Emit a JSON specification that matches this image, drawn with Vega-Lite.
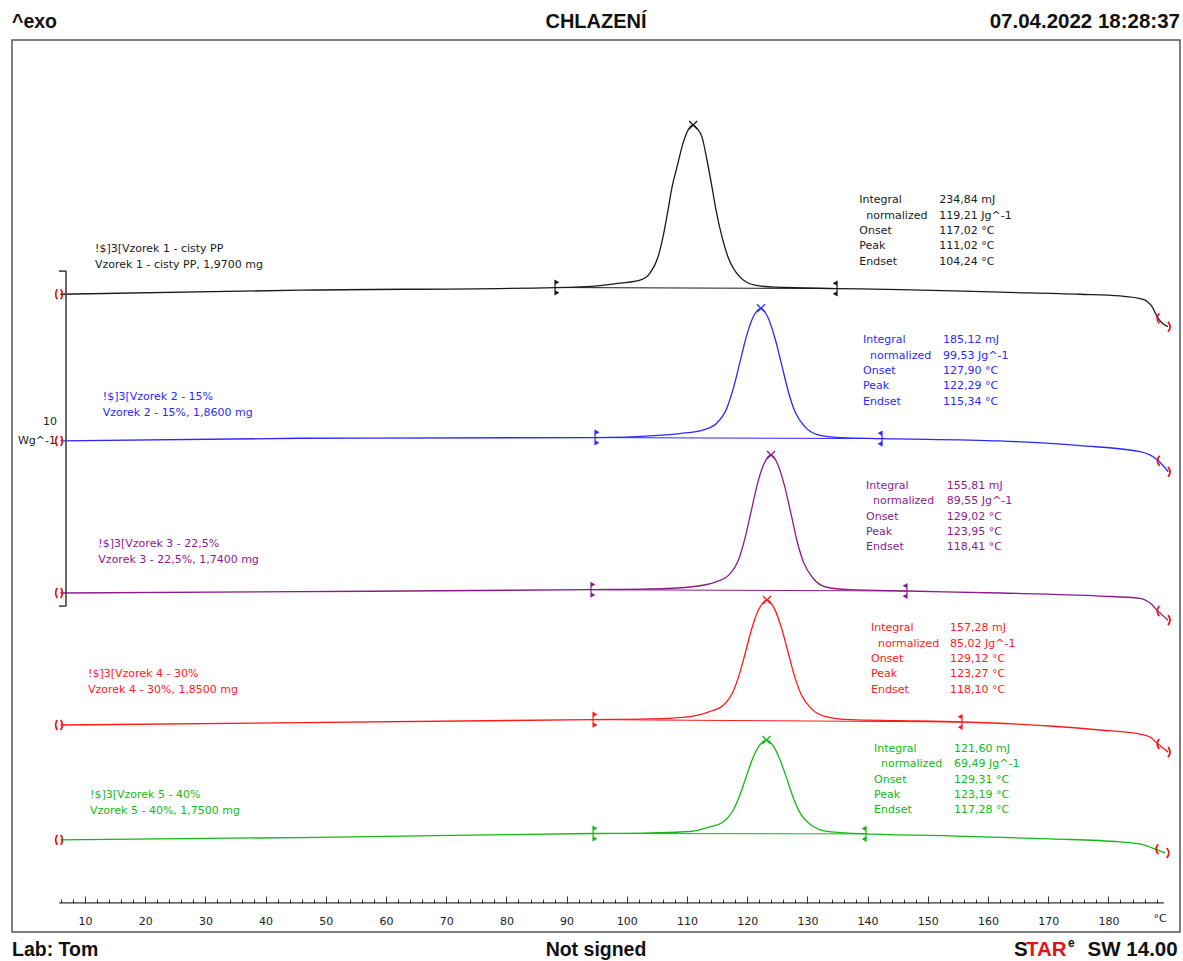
{
  "$schema": "https://vega.github.io/schema/vega-lite/v6.json",
  "width": 1168,
  "height": 892,
  "autosize": "none",
  "padding": {"left": 12, "top": 40, "right": 3, "bottom": 29},
  "background": "white",
  "config": {
    "view": {"stroke": "#555555", "strokeWidth": 1.5},
    "font": "DejaVu Sans"
  },
  "resolve": {"axis": {"x": "independent"}},
  "datasets": {
    "curves": [
      {"sample": "Vzorek 1", "t": 5.9, "hf": 19.04},
      {"sample": "Vzorek 1", "t": 45.71, "hf": 19.16},
      {"sample": "Vzorek 1", "t": 88.07, "hf": 19.24},
      {"sample": "Vzorek 1", "t": 95.55, "hf": 19.3},
      {"sample": "Vzorek 1", "t": 98.87, "hf": 19.37},
      {"sample": "Vzorek 1", "t": 102.19, "hf": 19.46},
      {"sample": "Vzorek 1", "t": 103.85, "hf": 19.67},
      {"sample": "Vzorek 1", "t": 105.18, "hf": 20.15},
      {"sample": "Vzorek 1", "t": 106.01, "hf": 20.75},
      {"sample": "Vzorek 1", "t": 106.84, "hf": 21.55},
      {"sample": "Vzorek 1", "t": 107.51, "hf": 22.24},
      {"sample": "Vzorek 1", "t": 108.34, "hf": 22.84},
      {"sample": "Vzorek 1", "t": 109.34, "hf": 23.55},
      {"sample": "Vzorek 1", "t": 110.17, "hf": 23.94},
      {"sample": "Vzorek 1", "t": 111.02, "hf": 24.09},
      {"sample": "Vzorek 1", "t": 111.66, "hf": 23.99},
      {"sample": "Vzorek 1", "t": 112.49, "hf": 23.73},
      {"sample": "Vzorek 1", "t": 113.32, "hf": 23.04},
      {"sample": "Vzorek 1", "t": 114.15, "hf": 22.24},
      {"sample": "Vzorek 1", "t": 114.82, "hf": 21.55},
      {"sample": "Vzorek 1", "t": 115.81, "hf": 20.75},
      {"sample": "Vzorek 1", "t": 116.81, "hf": 20.15},
      {"sample": "Vzorek 1", "t": 118.8, "hf": 19.55},
      {"sample": "Vzorek 1", "t": 121.3, "hf": 19.31},
      {"sample": "Vzorek 1", "t": 124.62, "hf": 19.25},
      {"sample": "Vzorek 1", "t": 134.92, "hf": 19.21},
      {"sample": "Vzorek 1", "t": 145.38, "hf": 19.18},
      {"sample": "Vzorek 1", "t": 161.99, "hf": 19.1},
      {"sample": "Vzorek 1", "t": 175.28, "hf": 19.04},
      {"sample": "Vzorek 1", "t": 181.93, "hf": 18.99},
      {"sample": "Vzorek 1", "t": 185.75, "hf": 18.89},
      {"sample": "Vzorek 1", "t": 187.24, "hf": 18.67},
      {"sample": "Vzorek 1", "t": 188.24, "hf": 18.32},
      {"sample": "Vzorek 1", "t": 189.9, "hf": 18.07},

      {"sample": "Vzorek 2", "t": 5.9, "hf": 14.66},
      {"sample": "Vzorek 2", "t": 45.71, "hf": 14.74},
      {"sample": "Vzorek 2", "t": 94.72, "hf": 14.76},
      {"sample": "Vzorek 2", "t": 103.85, "hf": 14.81},
      {"sample": "Vzorek 2", "t": 108.84, "hf": 14.88},
      {"sample": "Vzorek 2", "t": 112.71, "hf": 14.99},
      {"sample": "Vzorek 2", "t": 114.93, "hf": 15.19},
      {"sample": "Vzorek 2", "t": 116.59, "hf": 15.63},
      {"sample": "Vzorek 2", "t": 117.69, "hf": 16.23},
      {"sample": "Vzorek 2", "t": 118.8, "hf": 17.02},
      {"sample": "Vzorek 2", "t": 119.92, "hf": 17.82},
      {"sample": "Vzorek 2", "t": 121.01, "hf": 18.37},
      {"sample": "Vzorek 2", "t": 122.29, "hf": 18.62},
      {"sample": "Vzorek 2", "t": 123.5, "hf": 18.32},
      {"sample": "Vzorek 2", "t": 124.62, "hf": 17.72},
      {"sample": "Vzorek 2", "t": 125.73, "hf": 16.93},
      {"sample": "Vzorek 2", "t": 126.83, "hf": 16.13},
      {"sample": "Vzorek 2", "t": 127.94, "hf": 15.53},
      {"sample": "Vzorek 2", "t": 129.6, "hf": 15.08},
      {"sample": "Vzorek 2", "t": 131.81, "hf": 14.84},
      {"sample": "Vzorek 2", "t": 135.42, "hf": 14.76},
      {"sample": "Vzorek 2", "t": 142.39, "hf": 14.73},
      {"sample": "Vzorek 2", "t": 161.99, "hf": 14.66},
      {"sample": "Vzorek 2", "t": 175.28, "hf": 14.52},
      {"sample": "Vzorek 2", "t": 185.25, "hf": 14.34},
      {"sample": "Vzorek 2", "t": 188.29, "hf": 14.07},
      {"sample": "Vzorek 2", "t": 189.95, "hf": 13.74},

      {"sample": "Vzorek 3", "t": 5.9, "hf": 10.12},
      {"sample": "Vzorek 3", "t": 45.71, "hf": 10.16},
      {"sample": "Vzorek 3", "t": 94.05, "hf": 10.22},
      {"sample": "Vzorek 3", "t": 103.85, "hf": 10.24},
      {"sample": "Vzorek 3", "t": 110.5, "hf": 10.3},
      {"sample": "Vzorek 3", "t": 114.9, "hf": 10.46},
      {"sample": "Vzorek 3", "t": 117.01, "hf": 10.67},
      {"sample": "Vzorek 3", "t": 118.59, "hf": 11.13},
      {"sample": "Vzorek 3", "t": 119.63, "hf": 11.76},
      {"sample": "Vzorek 3", "t": 120.68, "hf": 12.58},
      {"sample": "Vzorek 3", "t": 121.74, "hf": 13.41},
      {"sample": "Vzorek 3", "t": 122.79, "hf": 13.98},
      {"sample": "Vzorek 3", "t": 123.95, "hf": 14.24},
      {"sample": "Vzorek 3", "t": 125.15, "hf": 13.93},
      {"sample": "Vzorek 3", "t": 126.21, "hf": 13.31},
      {"sample": "Vzorek 3", "t": 127.28, "hf": 12.48},
      {"sample": "Vzorek 3", "t": 128.31, "hf": 11.65},
      {"sample": "Vzorek 3", "t": 129.37, "hf": 11.03},
      {"sample": "Vzorek 3", "t": 130.95, "hf": 10.56},
      {"sample": "Vzorek 3", "t": 133.04, "hf": 10.3},
      {"sample": "Vzorek 3", "t": 137.08, "hf": 10.22},
      {"sample": "Vzorek 3", "t": 146.54, "hf": 10.18},
      {"sample": "Vzorek 3", "t": 161.99, "hf": 10.12},
      {"sample": "Vzorek 3", "t": 178.6, "hf": 10.03},
      {"sample": "Vzorek 3", "t": 185.25, "hf": 9.96},
      {"sample": "Vzorek 3", "t": 186.91, "hf": 9.82},
      {"sample": "Vzorek 3", "t": 188.24, "hf": 9.58},
      {"sample": "Vzorek 3", "t": 189.9, "hf": 9.31},

      {"sample": "Vzorek 4", "t": 5.9, "hf": 6.18},
      {"sample": "Vzorek 4", "t": 45.71, "hf": 6.25},
      {"sample": "Vzorek 4", "t": 94.39, "hf": 6.34},
      {"sample": "Vzorek 4", "t": 103.85, "hf": 6.36},
      {"sample": "Vzorek 4", "t": 110.5, "hf": 6.43},
      {"sample": "Vzorek 4", "t": 113.75, "hf": 6.58},
      {"sample": "Vzorek 4", "t": 115.98, "hf": 6.76},
      {"sample": "Vzorek 4", "t": 117.64, "hf": 7.17},
      {"sample": "Vzorek 4", "t": 118.74, "hf": 7.72},
      {"sample": "Vzorek 4", "t": 119.85, "hf": 8.45},
      {"sample": "Vzorek 4", "t": 120.96, "hf": 9.18},
      {"sample": "Vzorek 4", "t": 122.06, "hf": 9.68},
      {"sample": "Vzorek 4", "t": 123.27, "hf": 9.91},
      {"sample": "Vzorek 4", "t": 124.55, "hf": 9.64},
      {"sample": "Vzorek 4", "t": 125.66, "hf": 9.09},
      {"sample": "Vzorek 4", "t": 126.78, "hf": 8.36},
      {"sample": "Vzorek 4", "t": 127.87, "hf": 7.63},
      {"sample": "Vzorek 4", "t": 128.99, "hf": 7.08},
      {"sample": "Vzorek 4", "t": 130.65, "hf": 6.67},
      {"sample": "Vzorek 4", "t": 132.86, "hf": 6.44},
      {"sample": "Vzorek 4", "t": 137.08, "hf": 6.34},
      {"sample": "Vzorek 4", "t": 145.38, "hf": 6.31},
      {"sample": "Vzorek 4", "t": 155.68, "hf": 6.27},
      {"sample": "Vzorek 4", "t": 170.3, "hf": 6.15},
      {"sample": "Vzorek 4", "t": 178.6, "hf": 6.03},
      {"sample": "Vzorek 4", "t": 185.25, "hf": 5.91},
      {"sample": "Vzorek 4", "t": 186.91, "hf": 5.82},
      {"sample": "Vzorek 4", "t": 188.24, "hf": 5.61},
      {"sample": "Vzorek 4", "t": 189.9, "hf": 5.37},

      {"sample": "Vzorek 5", "t": 5.9, "hf": 2.75},
      {"sample": "Vzorek 5", "t": 45.71, "hf": 2.82},
      {"sample": "Vzorek 5", "t": 94.39, "hf": 2.94},
      {"sample": "Vzorek 5", "t": 103.85, "hf": 2.96},
      {"sample": "Vzorek 5", "t": 110.5, "hf": 3.0},
      {"sample": "Vzorek 5", "t": 113.65, "hf": 3.13},
      {"sample": "Vzorek 5", "t": 115.88, "hf": 3.27},
      {"sample": "Vzorek 5", "t": 117.54, "hf": 3.59},
      {"sample": "Vzorek 5", "t": 118.64, "hf": 4.02},
      {"sample": "Vzorek 5", "t": 119.75, "hf": 4.59},
      {"sample": "Vzorek 5", "t": 120.86, "hf": 5.16},
      {"sample": "Vzorek 5", "t": 121.96, "hf": 5.55},
      {"sample": "Vzorek 5", "t": 123.19, "hf": 5.73},
      {"sample": "Vzorek 5", "t": 124.45, "hf": 5.52},
      {"sample": "Vzorek 5", "t": 125.56, "hf": 5.09},
      {"sample": "Vzorek 5", "t": 126.68, "hf": 4.52},
      {"sample": "Vzorek 5", "t": 127.77, "hf": 3.95},
      {"sample": "Vzorek 5", "t": 128.89, "hf": 3.52},
      {"sample": "Vzorek 5", "t": 130.55, "hf": 3.2},
      {"sample": "Vzorek 5", "t": 132.76, "hf": 3.02},
      {"sample": "Vzorek 5", "t": 136.25, "hf": 2.96},
      {"sample": "Vzorek 5", "t": 139.74, "hf": 2.93},
      {"sample": "Vzorek 5", "t": 153.69, "hf": 2.87},
      {"sample": "Vzorek 5", "t": 170.3, "hf": 2.78},
      {"sample": "Vzorek 5", "t": 181.93, "hf": 2.69},
      {"sample": "Vzorek 5", "t": 185.25, "hf": 2.63},
      {"sample": "Vzorek 5", "t": 187.24, "hf": 2.51},
      {"sample": "Vzorek 5", "t": 189.4, "hf": 2.36}
    ],
    "baselines": [
      {"sample": "Vzorek 1", "t": 88.07, "hf": 19.24},
      {"sample": "Vzorek 1", "t": 134.92, "hf": 19.21},
      {"sample": "Vzorek 2", "t": 94.72, "hf": 14.76},
      {"sample": "Vzorek 2", "t": 142.39, "hf": 14.73},
      {"sample": "Vzorek 3", "t": 94.05, "hf": 10.22},
      {"sample": "Vzorek 3", "t": 146.54, "hf": 10.18},
      {"sample": "Vzorek 4", "t": 94.39, "hf": 6.34},
      {"sample": "Vzorek 4", "t": 155.68, "hf": 6.27},
      {"sample": "Vzorek 5", "t": 94.39, "hf": 2.94},
      {"sample": "Vzorek 5", "t": 139.74, "hf": 2.93}
    ],
    "limits": [
      {"sample": "Vzorek 1", "edge": "left", "t": 88.07, "hf": 19.24},
      {"sample": "Vzorek 1", "edge": "right", "t": 134.92, "hf": 19.21},
      {"sample": "Vzorek 2", "edge": "left", "t": 94.72, "hf": 14.76},
      {"sample": "Vzorek 2", "edge": "right", "t": 142.39, "hf": 14.73},
      {"sample": "Vzorek 3", "edge": "left", "t": 94.05, "hf": 10.22},
      {"sample": "Vzorek 3", "edge": "right", "t": 146.54, "hf": 10.18},
      {"sample": "Vzorek 4", "edge": "left", "t": 94.39, "hf": 6.34},
      {"sample": "Vzorek 4", "edge": "right", "t": 155.68, "hf": 6.27},
      {"sample": "Vzorek 5", "edge": "left", "t": 94.39, "hf": 2.94},
      {"sample": "Vzorek 5", "edge": "right", "t": 139.74, "hf": 2.93}
    ],
    "peaks": [
      {"sample": "Vzorek 1", "t": 111.02, "hf": 24.09},
      {"sample": "Vzorek 2", "t": 122.29, "hf": 18.62},
      {"sample": "Vzorek 3", "t": 123.95, "hf": 14.24},
      {"sample": "Vzorek 4", "t": 123.27, "hf": 9.91},
      {"sample": "Vzorek 5", "t": 123.19, "hf": 5.73}
    ],
    "ranges": [
      {"sample": "Vzorek 1", "edge": "pair", "t": 5.68, "hf": 19.04},
      {"sample": "Vzorek 1", "edge": "open", "t": 188.24, "hf": 18.32},
      {"sample": "Vzorek 1", "edge": "close", "t": 190.1, "hf": 18.07},
      {"sample": "Vzorek 2", "edge": "pair", "t": 5.68, "hf": 14.66},
      {"sample": "Vzorek 2", "edge": "open", "t": 188.29, "hf": 14.07},
      {"sample": "Vzorek 2", "edge": "close", "t": 190.1, "hf": 13.74},
      {"sample": "Vzorek 3", "edge": "pair", "t": 5.68, "hf": 10.12},
      {"sample": "Vzorek 3", "edge": "open", "t": 188.24, "hf": 9.58},
      {"sample": "Vzorek 3", "edge": "close", "t": 190.1, "hf": 9.31},
      {"sample": "Vzorek 4", "edge": "pair", "t": 5.68, "hf": 6.18},
      {"sample": "Vzorek 4", "edge": "open", "t": 188.24, "hf": 5.61},
      {"sample": "Vzorek 4", "edge": "close", "t": 190.1, "hf": 5.37},
      {"sample": "Vzorek 5", "edge": "pair", "t": 5.68, "hf": 2.75},
      {"sample": "Vzorek 5", "edge": "open", "t": 188.07, "hf": 2.47},
      {"sample": "Vzorek 5", "edge": "close", "t": 189.9, "hf": 2.36}
    ],
    "names": [
      {"sample": "Vzorek 1", "t": 11.66, "hf": 20.56, "text": "!$]3[Vzorek 1 - cisty PP\nVzorek 1 - cisty PP, 1,9700 mg"},
      {"sample": "Vzorek 2", "t": 12.94, "hf": 16.16, "text": "!$]3[Vzorek 2 - 15%\nVzorek 2 - 15%, 1,8600 mg"},
      {"sample": "Vzorek 3", "t": 12.21, "hf": 11.77, "text": "!$]3[Vzorek 3 - 22,5%\nVzorek 3 - 22,5%, 1,7400 mg"},
      {"sample": "Vzorek 4", "t": 10.5, "hf": 7.88, "text": "!$]3[Vzorek 4 - 30%\nVzorek 4 - 30%, 1,8500 mg"},
      {"sample": "Vzorek 5", "t": 10.83, "hf": 4.27, "text": "!$]3[Vzorek 5 - 40%\nVzorek 5 - 40%, 1,7500 mg"}
    ],
    "results": [
      {"sample": "Vzorek 1", "tl": 138.62, "tv": 151.91, "hf": 22.02, "values": "234,84 mJ\n119,21 Jg^-1\n117,02 °C\n111,02 °C\n104,24 °C"},
      {"sample": "Vzorek 2", "tl": 139.24, "tv": 152.52, "hf": 17.84, "values": "185,12 mJ\n99,53 Jg^-1\n127,90 °C\n122,29 °C\n115,34 °C"},
      {"sample": "Vzorek 3", "tl": 139.73, "tv": 153.14, "hf": 13.49, "values": "155,81 mJ\n89,55 Jg^-1\n129,02 °C\n123,95 °C\n118,41 °C"},
      {"sample": "Vzorek 4", "tl": 140.56, "tv": 153.69, "hf": 9.24, "values": "157,28 mJ\n85,02 Jg^-1\n129,12 °C\n123,27 °C\n118,10 °C"},
      {"sample": "Vzorek 5", "tl": 141.06, "tv": 154.35, "hf": 5.64, "values": "121,60 mJ\n69,49 Jg^-1\n129,31 °C\n123,19 °C\n117,28 °C"}
    ]
  },
  "layer": [
    {
      "data": {"name": "curves"},
      "mark": {"type": "line", "strokeWidth": 1.3, "interpolate": "monotone"},
      "encoding": {
        "x": {
          "field": "t", "type": "quantitative",
          "scale": {"domain": [-2.13, 191.89], "nice": false, "zero": false},
          "axis": {
            "orient": "bottom", "offset": -29, "domain": false, "grid": false, "title": null,
            "values": [10, 20, 30, 40, 50, 60, 70, 80, 90, 100, 110, 120, 130, 140, 150, 160, 170, 180],
            "tickSize": -7, "tickColor": "#333333", "tickWidth": 1,
            "labelPadding": 19, "labelFont": "DejaVu Sans", "labelFontSize": 11, "labelColor": "#222222",
            "labelFlush": false, "labelOverlap": false, "labelBound": false
          }
        },
        "y": {"field": "hf", "type": "quantitative", "scale": {"domain": [0, 26.63], "nice": false, "zero": false}, "axis": null},
        "color": {
          "field": "sample", "type": "nominal", "legend": null,
          "scale": {"domain": ["Vzorek 1", "Vzorek 2", "Vzorek 3", "Vzorek 4", "Vzorek 5"], "range": ["#1a1a1a", "#2a2aff", "#8b1a8b", "#ff1a1a", "#14b814"]}
        }
      }
    },
    {
      "data": {"name": "baselines"},
      "mark": {"type": "line", "strokeWidth": 1},
      "encoding": {
        "x": {
          "field": "t", "type": "quantitative",
          "axis": {
            "orient": "bottom", "offset": -29, "domain": false, "grid": false, "title": null, "labels": false,
            "values": [6,8,12,14,16,18,22,24,26,28,32,34,36,38,42,44,46,48,52,54,56,58,62,64,66,68,72,74,76,78,82,84,86,88,92,94,96,98,102,104,106,108,112,114,116,118,122,124,126,128,132,134,136,138,142,144,146,148,152,154,156,158,162,164,166,168,172,174,176,178,182,184,186,188],
            "tickSize": -4, "tickColor": "#333333", "tickWidth": 1
          }
        },
        "y": {"field": "hf", "type": "quantitative"},
        "color": {"field": "sample", "type": "nominal", "legend": null}
      }
    },
    {
      "data": {"values": [{}]},
      "mark": {"type": "rule", "color": "#333333", "strokeWidth": 1.2},
      "encoding": {"x": {"datum": 5.7, "axis": null}, "x2": {"datum": 189.2}, "y": {"datum": 0.87}}
    },
    {
      "data": {"values": [{}]},
      "mark": {"type": "rule", "color": "#444444", "strokeWidth": 1.6},
      "encoding": {"x": {"datum": 6.84, "axis": null}, "y": {"datum": 9.73}, "y2": {"datum": 19.73}}
    },
    {
      "data": {"values": [{}]},
      "mark": {"type": "rule", "color": "#444444", "strokeWidth": 1.6},
      "encoding": {"x": {"datum": 5.67, "axis": null}, "x2": {"datum": 6.84}, "y": {"datum": 19.73}}
    },
    {
      "data": {"values": [{}]},
      "mark": {"type": "rule", "color": "#444444", "strokeWidth": 1.6},
      "encoding": {"x": {"datum": 5.67, "axis": null}, "x2": {"datum": 6.84}, "y": {"datum": 9.73}}
    },
    {
      "data": {"name": "limits"},
      "mark": {"type": "point", "filled": true, "size": 196, "strokeWidth": 1.2, "opacity": 1},
      "encoding": {
        "x": {"field": "t", "type": "quantitative", "axis": null},
        "y": {"field": "hf", "type": "quantitative"},
        "color": {"field": "sample", "type": "nominal", "legend": null},
        "stroke": {"field": "sample", "type": "nominal", "legend": null, "scale": {"domain": ["Vzorek 1", "Vzorek 2", "Vzorek 3", "Vzorek 4", "Vzorek 5"], "range": ["#1a1a1a", "#2a2aff", "#8b1a8b", "#ff1a1a", "#14b814"]}},
        "shape": {
          "field": "edge", "type": "nominal", "legend": null,
          "scale": {
            "domain": ["left", "right", "pair", "open", "close"],
            "range": [
              "M0,-1L0,1M0,-1L0.45,-0.75L0,-0.5ZM0,1L0.45,0.75L0,0.5Z",
              "M0,-1L0,1M0,-1L-0.45,-0.75L0,-0.5ZM0,1L-0.45,0.75L0,0.5Z",
              "M-0.35,-1Q-1,0 -0.35,1M0.35,-1Q1,0 0.35,1",
              "M0.25,-1Q-0.6,0 0.25,1",
              "M-0.25,-1Q0.6,0 -0.25,1"
            ]
          }
        }
      }
    },
    {
      "data": {"name": "ranges"},
      "mark": {"type": "point", "filled": false, "size": 100, "strokeWidth": 1.7, "opacity": 1, "color": "#ee1111"},
      "encoding": {
        "x": {"field": "t", "type": "quantitative", "axis": null},
        "y": {"field": "hf", "type": "quantitative"},
        "shape": {
          "field": "edge", "type": "nominal", "legend": null,
          "scale": {
            "domain": ["left", "right", "pair", "open", "close"],
            "range": [
              "M0,-1L0,1M0,-1L0.45,-0.75L0,-0.5ZM0,1L0.45,0.75L0,0.5Z",
              "M0,-1L0,1M0,-1L-0.45,-0.75L0,-0.5ZM0,1L-0.45,0.75L0,0.5Z",
              "M-0.35,-1Q-1,0 -0.35,1M0.35,-1Q1,0 0.35,1",
              "M0.25,-1Q-0.6,0 0.25,1",
              "M-0.25,-1Q0.6,0 -0.25,1"
            ]
          }
        }
      }
    },
    {
      "data": {"name": "peaks"},
      "mark": {"type": "point", "filled": false, "size": 64, "strokeWidth": 1.3, "opacity": 1, "shape": "M-1,-1L1,1M-1,1L1,-1"},
      "encoding": {
        "x": {"field": "t", "type": "quantitative", "axis": null},
        "y": {"field": "hf", "type": "quantitative"},
        "color": {"field": "sample", "type": "nominal", "legend": null}
      }
    },
    {
      "data": {"name": "names"},
      "mark": {"type": "text", "align": "left", "baseline": "top", "lineBreak": "\n", "lineHeight": 16, "font": "DejaVu Sans", "fontSize": 11},
      "encoding": {
        "x": {"field": "t", "type": "quantitative", "axis": null},
        "y": {"field": "hf", "type": "quantitative"},
        "text": {"field": "text"},
        "color": {"field": "sample", "type": "nominal", "legend": null}
      }
    },
    {
      "data": {"name": "results"},
      "mark": {"type": "text", "align": "left", "baseline": "top", "font": "DejaVu Sans", "fontSize": 11, "text": "Integral"},
      "encoding": {
        "x": {"field": "tl", "type": "quantitative", "axis": null},
        "y": {"field": "hf", "type": "quantitative"},
        "color": {"field": "sample", "type": "nominal", "legend": null}
      }
    },
    {
      "data": {"name": "results"},
      "mark": {"type": "text", "align": "left", "baseline": "top", "font": "DejaVu Sans", "fontSize": 11, "dx": 7, "dy": 15.3, "text": "normalized"},
      "encoding": {
        "x": {"field": "tl", "type": "quantitative", "axis": null},
        "y": {"field": "hf", "type": "quantitative"},
        "color": {"field": "sample", "type": "nominal", "legend": null}
      }
    },
    {
      "data": {"name": "results"},
      "mark": {"type": "text", "align": "left", "baseline": "top", "lineBreak": "\n", "lineHeight": 15.3, "font": "DejaVu Sans", "fontSize": 11, "dy": 30.6, "text": "Onset\nPeak\nEndset"},
      "encoding": {
        "x": {"field": "tl", "type": "quantitative", "axis": null},
        "y": {"field": "hf", "type": "quantitative"},
        "color": {"field": "sample", "type": "nominal", "legend": null}
      }
    },
    {
      "data": {"name": "results"},
      "mark": {"type": "text", "align": "left", "baseline": "top", "lineBreak": "\n", "lineHeight": 15.3, "font": "DejaVu Sans", "fontSize": 11},
      "encoding": {
        "x": {"field": "tv", "type": "quantitative", "axis": null},
        "y": {"field": "hf", "type": "quantitative"},
        "text": {"field": "values"},
        "color": {"field": "sample", "type": "nominal", "legend": null}
      }
    },
    {
      "data": {"values": [{}]},
      "mark": {"type": "text", "align": "right", "baseline": "middle", "font": "DejaVu Sans", "fontSize": 11, "color": "#222222", "text": "10"},
      "encoding": {"x": {"datum": 5.35, "axis": null}, "y": {"datum": 15.22}}
    },
    {
      "data": {"values": [{}]},
      "mark": {"type": "text", "align": "right", "baseline": "middle", "font": "DejaVu Sans", "fontSize": 11, "color": "#222222", "text": "Wg^-1"},
      "encoding": {"x": {"datum": 5.18, "axis": null}, "y": {"datum": 14.66}}
    },
    {
      "data": {"values": [{}]},
      "mark": {"type": "text", "align": "center", "baseline": "middle", "font": "DejaVu Sans", "fontSize": 11, "color": "#222222", "text": "°C"},
      "encoding": {"x": {"datum": 188.57, "axis": null}, "y": {"datum": 0.39}}
    },
    {
      "data": {"values": [{}]},
      "mark": {"type": "text", "align": "left", "baseline": "middle", "font": "Liberation Sans", "fontWeight": "bold", "fontSize": 19.5, "color": "#111111", "text": "^exo"},
      "encoding": {"x": {"datum": -2.13, "axis": null}, "y": {"datum": 27.16}}
    },
    {
      "data": {"values": [{}]},
      "mark": {"type": "text", "align": "center", "baseline": "middle", "font": "Liberation Sans", "fontWeight": "bold", "fontSize": 20, "color": "#111111", "text": "CHLAZENÍ"},
      "encoding": {"x": {"datum": 94.88, "axis": null}, "y": {"datum": 27.16}}
    },
    {
      "data": {"values": [{}]},
      "mark": {"type": "text", "align": "right", "baseline": "middle", "font": "Liberation Sans", "fontWeight": "bold", "fontSize": 20.5, "color": "#111111", "text": "07.04.2022 18:28:37"},
      "encoding": {"x": {"datum": 191.89, "axis": null}, "y": {"datum": 27.16}}
    },
    {
      "data": {"values": [{}]},
      "mark": {"type": "text", "align": "left", "baseline": "middle", "font": "Liberation Sans", "fontWeight": "bold", "fontSize": 19.5, "color": "#111111", "text": "Lab: Tom"},
      "encoding": {"x": {"datum": -2.13, "axis": null}, "y": {"datum": -0.54}}
    },
    {
      "data": {"values": [{}]},
      "mark": {"type": "text", "align": "center", "baseline": "middle", "font": "Liberation Sans", "fontWeight": "bold", "fontSize": 19.5, "color": "#111111", "text": "Not signed"},
      "encoding": {"x": {"datum": 94.88, "axis": null}, "y": {"datum": -0.54}}
    },
    {
      "data": {"values": [{}]},
      "mark": {"type": "text", "align": "left", "baseline": "middle", "font": "Liberation Sans", "fontWeight": "bold", "fontSize": 20.5, "color": "#111111", "text": "S"},
      "encoding": {"x": {"datum": 164.32, "axis": null}, "y": {"datum": -0.54}}
    },
    {
      "data": {"values": [{}]},
      "mark": {"type": "text", "align": "left", "baseline": "middle", "font": "Liberation Sans", "fontWeight": "bold", "fontSize": 20.5, "color": "#e3131b", "text": "TAR"},
      "encoding": {"x": {"datum": 166.31, "axis": null}, "y": {"datum": -0.54}}
    },
    {
      "data": {"values": [{}]},
      "mark": {"type": "text", "align": "left", "baseline": "middle", "font": "Liberation Sans", "fontWeight": "bold", "fontSize": 12, "color": "#111111", "text": "e"},
      "encoding": {"x": {"datum": 173.3, "axis": null}, "y": {"datum": -0.33}}
    },
    {
      "data": {"values": [{}]},
      "mark": {"type": "text", "align": "right", "baseline": "middle", "font": "Liberation Sans", "fontWeight": "bold", "fontSize": 20.5, "color": "#111111", "text": "SW 14.00"},
      "encoding": {"x": {"datum": 191.5, "axis": null}, "y": {"datum": -0.54}}
    }
  ]
}
